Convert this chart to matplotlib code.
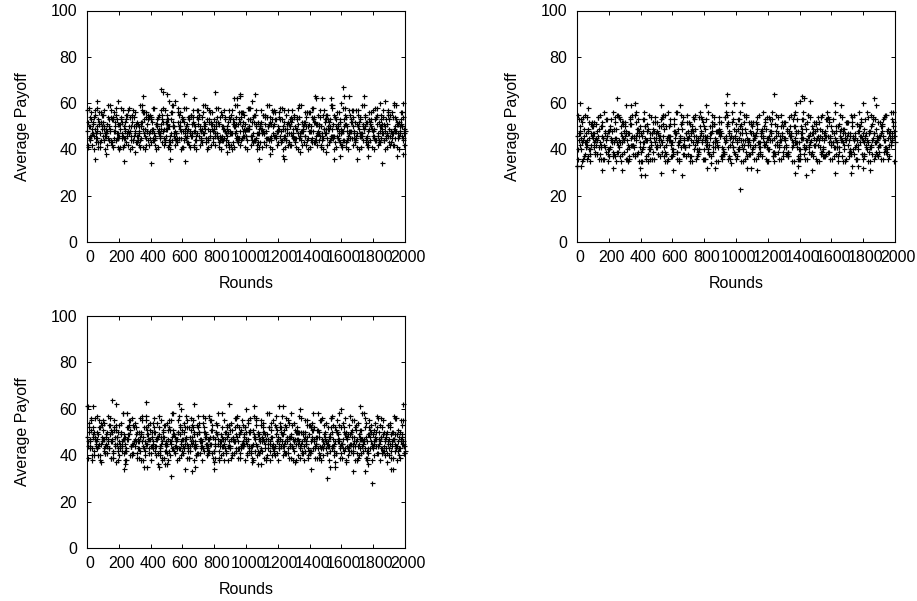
import numpy as np
import matplotlib
matplotlib.use("Agg")
import matplotlib.pyplot as plt
from matplotlib.transforms import ScaledTranslation

plt.rcParams['font.family'] = ['Liberation Sans', 'DejaVu Sans']

x_ticks = [0, 200, 400, 600, 800, 1000, 1200, 1400, 1600, 1800, 2000]
y_ticks = [0, 20, 40, 60, 80, 100]
x_label = "Rounds"
y_label = "Average Payoff"

# Payoff estimates, one value every 20 rounds per row
a1 = [57,44,52,48,41,55,47,50,43,58,46,52,49,42,54,47,51,45,56,48,53,44,50,46,58,49,43,52,47,55,
      41,50,54,46,48,57,44,51,49,42,53,47,56,45,50,48,43,54,52,46,49,58,44,51,47,41,55,50,46,53,
      48,43,57,49,52,45,54,47,50,42,56,48,44,51,46,53,49,58,43,50,47,55,45,52,48,41,54,49,46,51,
      57,44,50,47,53,43,56,48,52,46]
a2 = [42,53,46,50,56,44,51,48,54,45,49,41,55,47,52,43,50,57,46,53,48,42,54,49,45,51,56,47,44,50,
      53,48,41,52,46,55,49,43,57,51,47,45,50,54,48,42,52,46,56,49,44,53,47,50,43,55,48,51,57,45,
      49,53,46,42,54,50,47,44,52,56,48,43,51,46,55,49,53,45,50,47,41,54,48,52,44,57,46,50,43,53,
      49,55,45,51,47,42,54,48,50,44]
a3 = [50,47,55,43,52,49,45,57,48,53,41,50,46,54,44,51,48,56,42,47,52,45,49,55,43,50,53,46,58,48,
      44,51,47,42,54,49,56,45,52,48,50,43,46,53,41,57,47,51,44,55,49,46,52,42,50,48,54,45,47,53,
      56,49,44,51,46,43,58,48,52,45,50,54,47,42,49,55,44,51,46,53,48,43,57,50,45,52,47,55,41,49,
      53,46,50,44,56,48,42,51,47,54]
a4 = [46,51,43,56,49,47,53,42,52,45,54,48,57,44,50,46,41,53,48,55,44,51,47,52,49,42,56,45,50,53,
      47,43,55,48,51,45,52,58,46,49,54,44,50,47,42,53,48,56,45,51,49,46,55,43,52,47,50,44,57,48,
      53,46,51,42,49,45,54,48,50,56,43,52,47,44,53,49,46,55,51,42,50,48,45,57,47,53,44,52,49,46,
      54,43,51,48,55,45,50,47,53,49]
a5 = [48,50,54,45,47,52,46,49,53,44,51,47,45,50,55,48,46,52,49,44,54,47,51,45,49,53,46,50,44,52,
      48,45,53,47,50,46,54,49,44,51,47,52,45,49,46,53,50,44,48,52,46,50,54,45,49,47,51,44,53,46,
      50,48,45,52,47,54,49,46,51,44,48,53,46,50,45,47,52,49,54,44,48,51,46,53,45,50,47,49,52,44,
      46,51,48,54,45,49,47,53,46,50]
a6 = [52,46,49,53,44,50,48,54,45,47,51,46,53,48,44,50,47,52,45,54,49,46,48,51,44,53,47,50,45,49,
      52,46,48,54,44,50,47,45,53,49,46,51,44,48,52,47,50,45,54,46,49,53,44,47,51,48,45,52,50,46,
      54,44,49,47,53,45,51,48,46,50,44,52,47,54,49,45,50,46,53,48,44,51,47,45,52,49,46,54,48,50,
      45,47,53,44,51,46,49,52,48,45]
a7 = [45,49,47,52,50,46,54,44,48,51,53,45,47,50,46,52,44,49,54,48,45,51,47,53,46,50,44,48,52,45,
      49,54,46,51,47,44,50,53,48,45,52,46,49,44,54,47,51,45,50,48,53,46,44,52,49,47,45,54,51,48,
      46,50,44,53,47,49,45,52,46,51,54,44,48,50,47,53,45,46,49,52,44,50,48,54,46,47,51,45,53,49,
      44,52,47,50,46,48,54,45,51,47]
a8 = [54,47,45,51,46,49,44,53,50,47,45,52,48,46,54,44,50,47,51,45,49,53,46,48,52,44,50,47,45,54,
      46,49,51,44,53,48,47,45,52,50,46,54,44,49,47,51,45,53,48,46,50,52,44,47,49,54,45,51,46,48,
      44,52,47,50,45,53,46,49,54,48,45,51,44,47,52,50,46,54,45,49,53,44,48,47,51,46,50,45,52,48,
      54,44,49,46,53,47,45,51,50,48]
a9 = [41,56,40,58,43,57,42,59,41,55,40,57,43,58,41,56,42,59,40,55,43,58,41,57,42,55,40,59,43,56,
      41,58,42,57,40,55,43,59,41,56,42,58,40,57,43,55,41,59,42,56,40,58,43,57,41,55,42,59,40,56,
      43,58,41,57,42,55,40,59,43,56,41,58,42,57,40,55,43,59,41,56,42,58,40,57,43,55,41,59,42,56,
      40,58,43,57,41,55,42,59,40,56]
a10 = [58,42,57,41,55,40,59,43,56,41,58,42,55,40,57,43,59,41,56,42,58,40,55,43,57,41,59,42,56,40,
       58,43,55,41,57,42,59,40,56,43,58,41,55,42,57,40,59,43,56,41,58,42,55,40,57,43,59,41,56,42,
       58,40,55,43,57,41,59,42,56,40,58,43,55,41,57,42,59,40,56,43,58,41,55,42,57,40,59,43,56,41,
       58,42,55,40,57,43,59,41,56,42]
a_rounds_out = [52,65,230,195,355,400,465,475,505,520,515,555,610,615,675,805,925,945,960,965,1040,1055,1080,
                1235,1240,1435,1440,1480,1535,1555,1590,1600,1610,1615,1650,1700,1745,1770,1855,1950,1985,1875,1845,1930,1990,
                120,300,880,1150,1340,1500]
a_pay_out = [36,61,35,61,63,34,66,65,64,36,61,61,64,35,62,65,62,62,63,64,61,64,36,
             37,36,63,62,62,62,36,37,60,67,63,63,36,63,37,34,37,38,61,60,60,60,
             38,39,39,38,39,39]

b1 = [33,47,54,42,38,50,45,36,52,44,40,48,37,55,43,46,35,51,41,47,39,53,44,36,49,42,46,55,38,50,
      43,47,35,52,41,45,37,49,44,54,40,46,34,51,42,48,38,56,45,41,36,53,47,39,44,50,42,37,46,52,
      40,48,35,43,55,45,38,50,42,47,36,53,41,46,39,51,44,48,37,54,42,45,35,49,40,52,46,38,44,50,
      36,47,41,53,43,39,48,55,42,45]
b2 = [55,40,46,36,51,43,48,38,45,53,41,37,49,44,52,36,47,42,55,39,46,50,35,43,48,41,53,37,45,51,
      40,56,44,38,47,42,50,36,54,43,46,39,52,41,48,37,45,51,34,49,43,47,40,55,38,44,52,41,48,36,
      46,53,42,39,50,44,37,47,55,41,45,38,52,43,49,36,46,41,53,39,48,44,51,37,45,42,55,47,40,52,
      38,44,50,36,46,42,53,39,48,56]
b3 = [44,52,38,49,42,47,54,41,36,46,50,43,39,53,45,48,37,42,52,46,35,50,41,47,54,38,44,49,36,43,
      51,39,46,42,55,37,48,44,40,52,45,38,50,43,47,36,54,41,46,39,49,44,52,37,42,47,51,39,45,43,
      54,37,48,41,46,52,39,44,50,36,47,42,55,38,45,49,41,37,53,46,43,50,39,47,36,44,52,41,48,38,
      45,54,42,47,37,50,44,40,46,52]
b4 = [48,36,43,52,46,39,41,50,47,38,44,54,42,35,48,40,53,45,38,50,43,36,47,52,41,46,39,55,44,37,
      48,42,51,45,38,47,53,40,46,36,43,50,41,48,54,39,44,37,52,46,40,49,36,43,51,45,38,47,42,54,
      44,39,50,46,37,41,48,53,43,36,45,51,39,47,42,54,38,44,46,50,37,41,48,43,52,39,46,36,50,44,
      41,47,38,53,45,51,40,36,43,48]
b5 = [46,42,49,44,40,47,51,43,45,39,48,44,52,41,46,50,42,45,38,49,47,43,51,40,45,48,42,46,50,44,
      39,47,43,52,41,46,49,42,45,48,44,40,47,51,43,46,39,50,42,45,48,41,44,47,52,40,46,43,49,42,
      45,51,39,47,44,41,48,46,50,43,40,45,49,42,47,44,52,39,46,43,48,41,50,45,42,47,39,44,51,46,
      43,40,48,45,49,42,46,41,47,44]
b6 = [40,45,43,48,47,41,44,50,42,46,49,39,45,43,51,47,41,46,44,48,40,45,49,42,43,47,50,41,44,46,
      48,39,45,42,47,51,43,46,40,44,49,42,48,45,41,47,43,52,46,39,44,50,42,45,48,41,47,43,46,49,
      40,44,51,42,47,45,39,46,43,48,50,41,44,47,42,45,49,40,46,52,43,48,41,44,47,39,50,45,42,46,
      49,43,41,47,44,46,39,48,45,50]
b7 = [47,43,41,45,50,44,46,42,48,40,45,49,43,47,39,44,51,42,46,41,48,44,40,47,45,50,43,39,46,42,
      47,49,41,44,45,48,40,43,50,46,42,47,39,44,49,41,46,48,43,45,40,51,44,42,47,46,49,41,43,45,
      48,39,46,44,50,42,47,41,45,43,49,40,46,44,48,42,39,47,50,45,41,43,46,49,44,47,40,42,48,45,
      46,39,51,43,41,47,44,49,42,46]
b8 = [50,44,47,40,45,42,49,46,41,48,43,45,39,50,44,47,42,46,49,43,41,48,45,39,47,44,51,42,46,40,
      45,43,49,41,48,44,46,39,47,50,42,45,43,48,46,40,44,47,41,51,45,42,49,44,39,46,43,48,50,41,
      47,45,42,44,39,49,46,43,48,40,47,44,41,50,42,46,45,48,39,43,47,41,44,49,46,40,45,51,43,47,
      42,48,44,39,46,50,41,45,47,43]
b9 = [36,53,37,54,35,52,38,55,36,53,37,56,35,54,38,52,36,55,37,53,35,56,38,54,36,52,37,55,35,53,
      38,56,36,54,37,52,35,55,38,53,36,56,37,54,35,52,38,55,36,53,37,56,35,54,38,52,36,55,37,53,
      35,56,38,54,36,52,37,55,35,53,38,56,36,54,37,52,35,55,38,53,36,56,37,54,35,52,38,55,36,53,
      37,56,35,54,38,52,36,55,37,53]
b10 = [53,35,55,37,52,38,54,36,56,35,53,38,55,37,52,36,54,38,56,35,53,37,55,36,52,38,54,35,56,37,
       53,36,55,38,52,35,54,37,56,36,53,38,55,35,52,37,54,36,56,38,53,35,55,37,52,36,54,38,56,35,
       53,37,55,36,52,38,54,35,56,37,53,36,55,38,52,35,54,37,56,36,53,38,55,35,52,37,54,36,56,38,
       53,35,55,37,52,36,54,38,56,35]
b_rounds_out = [250,1025,945,1240,1415,1430,1465,1870,1405,1380,1800,160,285,225,395,400,430,530,605,660,815,870,1070,1130,
                1370,1390,1440,1480,1620,1730,1770,1800,1840,940,985,1040,20,70,310,340,365,530,650,810,1620,1660,1880,0,25,
                1725,1095]
b_pay_out = [62,23,64,64,63,62,61,62,61,60,60,31,31,32,32,29,29,30,31,29,32,32,32,31,
             30,33,29,31,30,33,33,32,31,60,60,60,60,58,59,59,60,59,59,59,60,59,59,33,33,
             30,32]

c1 = [61,44,52,47,40,55,48,43,50,37,53,46,42,49,56,44,47,38,52,45,41,50,54,43,48,36,46,51,44,57,
      42,48,39,53,45,41,47,50,44,55,42,49,46,38,52,44,48,56,41,46,50,43,37,53,47,42,49,45,54,40,
      48,44,51,46,58,42,47,39,50,45,53,43,48,41,56,46,44,50,37,47,52,43,49,45,55,41,48,46,38,51,
      44,47,53,42,49,40,46,56,43,48]
c2 = [46,56,42,50,37,47,44,53,41,48,45,58,43,49,40,52,46,55,42,47,44,50,36,48,53,41,45,49,43,52,
      47,55,42,46,40,50,44,48,57,41,47,45,52,43,49,39,46,53,44,48,41,50,45,56,42,47,38,52,44,49,
      43,46,53,41,48,37,45,50,44,55,42,47,51,40,46,43,49,53,41,58,45,48,42,51,44,39,47,56,43,50,
      46,41,48,44,37,52,47,43,50,45]
c3 = [52,40,48,44,54,42,46,39,51,45,43,49,47,55,41,46,50,44,57,43,48,42,52,38,45,47,55,42,50,46,
      43,52,44,49,41,47,54,45,42,48,50,39,44,47,53,41,46,43,51,45,55,42,49,44,47,52,40,46,43,57,
      45,49,41,54,44,47,50,42,48,39,52,46,43,55,45,41,48,44,50,43,47,37,53,42,46,49,44,52,41,45,
      48,56,43,50,46,42,47,44,39,55]
c4 = [43,49,45,55,46,41,53,47,44,42,50,38,52,44,46,41,48,43,49,54,46,44,40,51,42,55,48,44,39,47,
      52,43,46,50,57,44,42,45,48,37,53,46,41,50,44,47,42,49,45,52,44,39,47,42,55,50,43,48,41,46,
      52,42,47,44,38,50,46,41,45,53,48,43,39,47,50,44,56,42,46,41,52,48,45,44,38,47,42,54,49,43,
      50,45,41,47,53,44,49,42,46,41]
c5 = [48,46,50,43,52,47,45,49,42,51,46,44,48,53,45,47,43,50,46,49,44,52,47,42,48,45,51,43,46,49,
      44,47,52,45,43,50,46,48,42,51,44,47,49,45,53,43,46,48,50,44,47,42,51,45,49,46,43,52,48,44,
      47,50,45,43,49,46,52,44,47,48,42,51,45,50,43,46,48,44,52,47,45,49,43,50,46,44,51,47,42,48,
      45,52,46,49,43,47,50,44,48,45]
c6 = [44,51,47,49,45,43,50,46,52,48,44,47,42,51,45,49,43,46,52,47,50,44,48,45,42,51,46,49,47,43,
      50,45,48,52,44,46,43,49,47,51,45,42,48,50,44,47,52,46,43,49,45,51,48,44,46,50,47,42,45,52,
      43,49,46,48,44,51,47,45,50,43,46,52,48,44,49,45,42,47,51,46,43,50,44,48,52,45,47,43,49,46,
      51,44,48,42,50,45,47,49,43,46]
c7 = [50,43,46,52,48,44,47,51,45,43,49,47,52,44,46,50,42,48,45,51,43,47,49,46,44,52,43,48,50,45,
      47,42,51,44,49,46,52,43,45,48,50,44,47,42,46,51,49,43,45,52,47,44,48,50,43,46,49,45,42,51,
      47,44,52,48,43,45,50,46,42,49,47,44,51,43,48,46,52,45,50,44,42,47,49,45,51,43,46,48,52,44,
      47,50,43,46,45,49,42,51,47,44]
c8 = [47,48,44,45,51,49,43,46,48,50,42,45,47,44,52,46,49,43,51,47,45,48,44,50,46,42,49,47,43,51,
      45,44,48,46,52,43,50,47,45,42,49,46,44,48,51,47,43,52,45,46,50,44,42,49,48,45,47,51,43,46,
      52,44,48,45,47,50,43,49,46,42,51,45,48,44,47,52,43,46,49,45,50,44,42,48,47,51,45,46,43,49,
      44,47,52,48,43,50,45,46,49,42]
c9 = [39,55,40,57,38,54,41,56,39,53,40,58,38,55,41,54,39,57,40,53,38,56,41,55,39,54,40,58,38,53,
      41,57,39,55,40,54,38,56,41,53,39,58,40,55,38,54,41,57,39,53,40,56,38,55,41,54,39,58,40,53,
      38,57,41,55,39,54,40,56,38,53,41,58,39,55,40,54,38,57,41,53,39,56,40,55,38,54,41,58,39,53,
      40,57,38,55,41,54,39,56,40,53]
c10 = [54,38,56,40,53,41,57,39,55,38,54,41,58,40,53,39,56,38,55,41,54,40,57,39,53,38,58,41,55,40,
       54,39,56,38,53,41,57,40,55,39,54,38,58,41,53,40,56,39,55,38,54,41,57,40,53,39,58,38,55,41,
       54,40,56,39,53,38,57,41,55,40,54,39,58,38,53,41,56,40,55,39,54,38,57,41,53,40,58,39,55,38,
       54,41,56,40,53,39,57,38,55,41]
c_rounds_out = [160,180,5,40,370,580,590,675,890,1210,1230,1720,1990,1050,1000,1340,1600,530,615,660,680,1510,1790,
                1670,1750,1910,800,1410,230,240,360,380,450,490,1530,1560,1770,1925,1095,1075]
c_pay_out = [64,62,61,61,63,62,60,62,62,61,61,61,62,61,60,60,60,31,34,33,35,30,28,
             33,33,34,34,34,34,36,35,35,35,36,35,35,36,34,36,36]

panels = [
    ((a1, a5, a9, a2, a6, a3, a10, a7, a4, a8), a_rounds_out, a_pay_out, [87, 10.5, 405, 242]),
    ((b1, b5, b9, b2, b6, b3, b10, b7, b4, b8), b_rounds_out, b_pay_out, [577, 10.5, 895, 242]),
    ((c1, c5, c9, c2, c6, c3, c10, c7, c4, c8), c_rounds_out, c_pay_out, [87, 316, 405, 548]),
]

W, H = 917, 601
fig = plt.figure(figsize=(W / 100, H / 100), dpi=100)
shift = ScaledTranslation(2.5 / 100, 0, fig.dpi_scale_trans)

for rows, xo, yo, (l, t, r, b) in panels:
    ax = fig.add_axes([l / W, 1 - b / H, (r - l) / W, (b - t) / H])
    for k, row in enumerate(rows):
        rounds = np.arange(len(row)) * 20 + k * 2
        ax.plot(rounds, row, ls='none', marker='+', ms=3.6, mew=0.85, color='black', clip_on=False)
    ax.plot(xo, yo, ls='none', marker='+', ms=3.6, mew=0.85, color='black', clip_on=False)
    ax.set_xlim(0, 2000)
    ax.set_ylim(0, 100)
    ax.set_xticks(x_ticks)
    ax.set_yticks(y_ticks)
    ax.tick_params(direction='in', top=True, right=True, length=3, width=0.7,
                   labelsize=11.5, pad=6, colors='black')
    ax.tick_params(axis='y', pad=7)
    for lab in ax.get_xticklabels():
        lab.set_transform(lab.get_transform() + shift)
    ax.set_xlabel(x_label, fontsize=11.5, labelpad=8)
    ax.set_ylabel(y_label, fontsize=11.5, labelpad=15)
    for s in ax.spines.values():
        s.set_linewidth(0.8)

fig.savefig("out.png", dpi=100)
